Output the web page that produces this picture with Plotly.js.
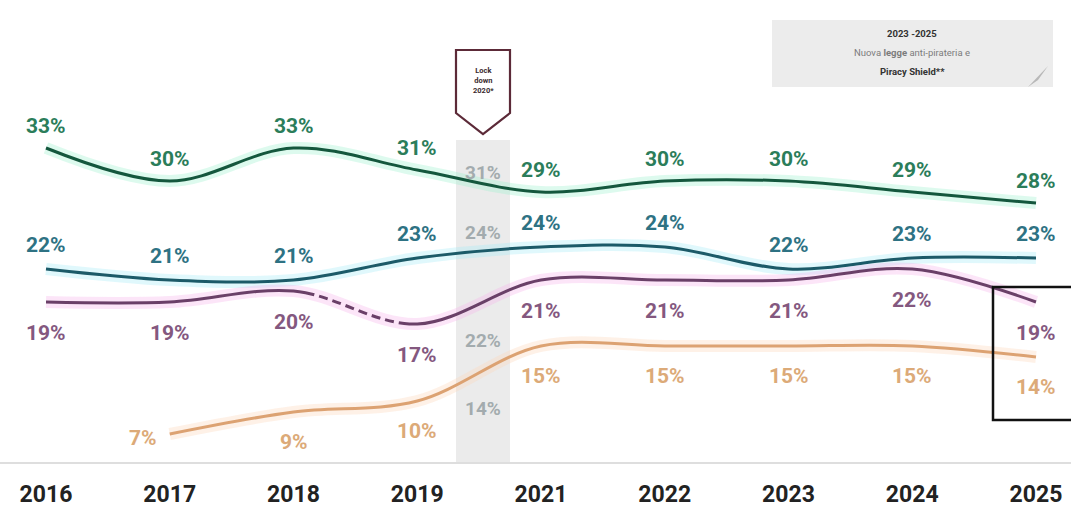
<!DOCTYPE html>
<html><head><meta charset="utf-8">
<script src="https://cdn.plot.ly/plotly-3.0.1.min.js"></script>
<style>body{margin:0;background:#fff}#chart{width:1071px;height:508px}</style>
</head><body><div id="chart"></div>
<script>
// ---- data ----
const years = ['2016','2017','2018','2019','2021','2022','2023','2024','2025'];
const seriesGreen  = [33,30,33,31,29,30,30,29,28];
const seriesBlue   = [22,21,21,23,24,24,22,23,23];
const seriesPurple = [19,19,20,17,21,21,21,22,19];
const seriesOrange = [null,7,9,10,15,15,15,15,14];
const lockdownValues = [31,24,22,14];
const lockdownText = 'Lock<br>down<br>2020*';
const infoLines = ['<b>2023 -2025</b>', 'Nuova <b>legge</b> anti-pirateria e', '<b>Piracy Shield**</b>'];

// ---- geometry helpers (layout only) ----
const W = 1071, PLOT_H = 462;
const x0px = 46, stepPx = 123.75;       // pixel of first category and spacing
const yA = 511, yK = 11;                // pixel = yA - yK*value
const X = px => (px - x0px) / stepPx;
const Y = py => (yA - py) / yK;
const xs = years.map((_, i) => i);
const lockX = X(483);

const styles = {
  green:  {line:'#14573d', glow:'#9ff0cf', text:'#2b7d5a', dy: 22},
  blue:   {line:'#1c5a68', glow:'#a5ecf5', text:'#2e7283', dy: 24},
  purple: {line:'#6a4068', glow:'#f5b5ea', text:'#84587f', dy:-31},
  orange: {line:'#dca272', glow:'#fbd8bb', text:'#dcaa78', dy:-30}
};

const traces = [];
function addLine(x, y, st) {
  traces.push({x, y, mode:'lines', type:'scatter', hoverinfo:'skip', showlegend:false,
    line:{color:st.glow, width:12, shape:'spline', smoothing:1}, opacity:0.35});
  traces.push({x, y, mode:'lines', type:'scatter', hoverinfo:'skip', showlegend:false,
    line:{color:st.line, width:3, shape:'spline', smoothing:1}});
  return traces.length - 1;
}
addLine(xs, seriesGreen, styles.green);
addLine(xs, seriesBlue, styles.blue);
const purpleIdx = addLine(xs, seriesPurple, styles.purple);
addLine(xs.slice(1), seriesOrange.slice(1), styles.orange);

const annotations = [];
const labelFont = c => ({family:'Roboto, sans-serif', size:21, color:c, weight:700});
function addLabels(vals, st, extra) {
  vals.forEach((v, i) => {
    if (v === null) return;
    const a = {x:xs[i], y:v, xref:'x', yref:'y', text:v + '%', showarrow:false,
      font:labelFont(st.text), yshift:st.dy};
    if (extra && extra[i]) Object.assign(a, extra[i]);
    annotations.push(a);
  });
}
addLabels(seriesGreen, styles.green);
addLabels(seriesBlue, styles.blue);
addLabels(seriesPurple, styles.purple);
addLabels(seriesOrange, styles.orange, {1:{xshift:-27, yshift:-4}});

// lockdown (2020) values, grey labels inside the band
const lockShift = [-2, 15, -71, -51];
lockdownValues.forEach((v, i) => {
  annotations.push({x:lockX, y:v, xref:'x', yref:'y', text:v + '%', showarrow:false,
    font:{family:'Roboto, sans-serif', size:19, color:'#a3abae', weight:700}, yshift:lockShift[i]});
});

// lockdown marker text
annotations.push({x:lockX, y:Y(80), xref:'x', yref:'y', text:'<b>' + lockdownText + '</b>', showarrow:false,
  font:{family:'Roboto, sans-serif', size:7.5, color:'#3a2a2e'}, align:'center'});

// info box text
infoLines.forEach((t, i) => {
  annotations.push({x:X(912), y:Y(33 + i*19), xref:'x', yref:'y', text:t, showarrow:false,
    font:{family:'Roboto, sans-serif', size:9.5, color:i===1 ? '#7c7c7c' : '#333'}});
});

const shapes = [
  {type:'rect', xref:'x', yref:'y', x0:X(456), x1:X(510), y0:Y(140), y1:Y(PLOT_H),
   fillcolor:'#ebebeb', line:{width:0}, layer:'below'},
  {type:'path', xref:'x', yref:'y',
   path:`M ${X(456)} ${Y(50)} L ${X(510)} ${Y(50)} L ${X(510)} ${Y(113)} L ${X(483)} ${Y(134)} L ${X(456)} ${Y(113)} Z`,
   fillcolor:'#ffffff', line:{color:'#5c2a38', width:2.2}},
  {type:'rect', xref:'x', yref:'y', x0:X(772), x1:X(1053), y0:Y(20), y1:Y(87),
   fillcolor:'#ececec', line:{width:0}, layer:'below'},
  {type:'path', xref:'x', yref:'y',
   path:`M ${X(1028)} ${Y(87)} L ${X(1048)} ${Y(66)} L ${X(1038)} ${Y(80)} Z`,
   fillcolor:'#b8b8b8', line:{width:0}},
  {type:'rect', xref:'x', yref:'y', x0:X(993), x1:X(1080), y0:Y(287), y1:Y(420),
   fillcolor:'rgba(0,0,0,0)', line:{color:'#111', width:2.5}}
];

const layout = {
  width:W, height:508,
  margin:{l:0, r:0, t:0, b:508 - PLOT_H, pad:0},
  paper_bgcolor:'#ffffff', plot_bgcolor:'#ffffff',
  showlegend:false,
  xaxis:{range:[X(0), X(W)], tickmode:'array', tickvals:xs, ticktext:years,
    showgrid:false, zeroline:false, showline:true, linecolor:'#dedede', linewidth:2,
    ticks:'', ticklabelstandoff:10,
    tickfont:{family:'Roboto, sans-serif', size:23, color:'#222', weight:700}, fixedrange:true},
  yaxis:{range:[Y(PLOT_H), Y(0)], visible:false, fixedrange:true},
  shapes, annotations
};

Plotly.newPlot('chart', traces, layout, {displayModeBar:false, staticPlot:true}).then(gd => {
  // dashed stretch of the purple line between 2018 and 2019 (same smooth curve)
  const tr = gd.querySelectorAll('.scatterlayer .trace')[purpleIdx];
  const path = tr && tr.querySelector('path.js-line');
  if (!path || !path.getTotalLength) return;
  const total = path.getTotalLength();
  const lenAtX = px => {
    let lo = 0, hi = total;
    for (let k = 0; k < 40; k++) {
      const mid = (lo + hi) / 2;
      if (path.getPointAtLength(mid).x < px) lo = mid; else hi = mid;
    }
    return lo;
  };
  const a = lenAtX(gd._fullLayout.xaxis.l2p(2) + 12);
  const b = lenAtX(gd._fullLayout.xaxis.l2p(3) - 8);
  const parts = [a.toFixed(1) + 'px', '0px'];
  let s = a;
  while (s + 14 < b) { parts.push('9px', '5px'); s += 14; }
  parts.push((b - s).toFixed(1) + 'px', '0px', (total - b + 20).toFixed(1) + 'px', '0px');
  Plotly.restyle(gd, {'line.dash': parts.join(',')}, [purpleIdx]);
});
</script></body></html>
